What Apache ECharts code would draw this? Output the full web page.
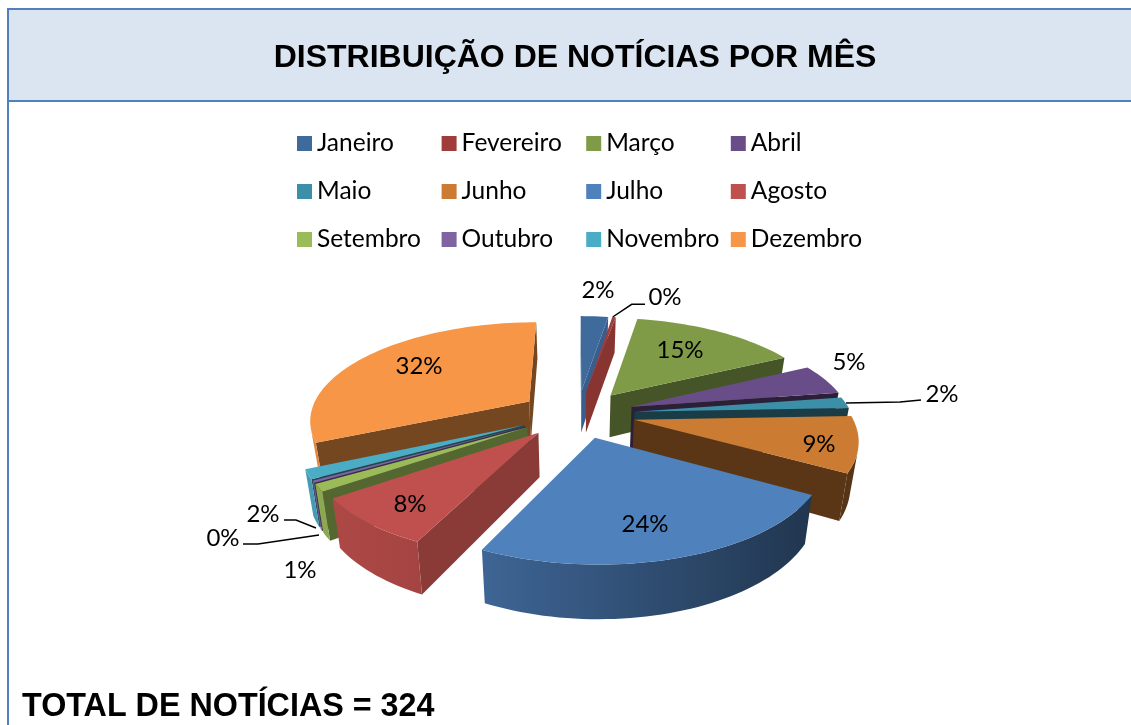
<!DOCTYPE html>
<html><head><meta charset="utf-8">
<style>html,body{margin:0;padding:0;background:#fff}#c{width:1131px;height:725px}</style>
<script src="https://cdn.jsdelivr.net/npm/echarts@6/dist/echarts.min.js"></script>
</head><body><div id="c"></div>
<script>
const chartTitle = 'DISTRIBUIÇÃO DE NOTÍCIAS POR MÊS';
const totalLabel = 'TOTAL DE NOTÍCIAS = ';
const months = ['Janeiro','Fevereiro','Março','Abril','Maio','Junho','Julho','Agosto','Setembro','Outubro','Novembro','Dezembro'];
const counts = [8,1,48,16,6,29,77,26,4,1,5,103];
const colors = ['#3E6A9C','#A03D3A','#7F9B47','#694D88','#3B8FA6','#CC7B32','#4F81BD','#C0504D','#9BBB59','#8064A2','#4BACC6','#F79646'];

// Styling tables
const paintOrder = [0,1,7,8,9,10,11,6,5,4,3,2];
const radialShade = [0.9,0.85,0.55,0.42,0.42,0.44,0.5,0.72,0.55,0.45,0.42,0.47];
const sliceScale = [1,1,1.02,1.02,1.01,1.01,1.01,1,1,1,1,1.02];
const labelAt = [[598,290],[665,297],[680,350],[849,362],[942,394],[819,444],[645,524],[410,504],[300,570],[223,538],[263,514],[419,366]];
const leaders = {1:[[612.7,317],[631.7,304.3],[645,304.3]],4:[[846,403],[900,402],[921,400]],9:[[319,535],[258,544],[243,544]],10:[[316,528],[296,520],[284,520]]};

// Pie projection
const P = {vx:577, vy:414, Rx:215, Ry:95, k:0.17, H:43, m:0.03, explodeX:0.27, explodeY:0.25};
function project(X,Y,z){
  const s = 1/(1-P.k*Y);
  return [P.vx + P.Rx*X*s*(1-P.m*z), P.vy + (P.Ry*Y + P.H*z)*s];
}
function shade(hex,f){
  const n=parseInt(hex.slice(1),16);
  const c=[(n>>16)&255,(n>>8)&255,n&255].map(v=>Math.round(v*f));
  return 'rgb('+c.join(',')+')';
}
function area(p){let a=0;for(let i=0;i<p.length;i++){const q=p[(i+1)%p.length];a+=p[i][0]*q[1]-q[0]*p[i][1];}return a;}

const total = counts.reduce((a,b)=>a+b,0);
let running = 0;
const spans = counts.map(v=>{const a=running;running+=v;return [a/total,running/total];});

function renderSlice(monthIdx){
  return function(params,api){
    const t0=api.value(0)*2*Math.PI, t1=api.value(1)*2*Math.PI, mid=(t0+t1)/2;
    const ex=P.explodeX*Math.sin(mid), ey=-P.explodeY*Math.cos(mid), R=sliceScale[monthIdx];
    const pt=(t,r,z)=>project(ex+R*r*Math.sin(t),ey-R*r*Math.cos(t),z);
    const n=Math.max(2,Math.ceil((t1-t0)/0.03));
    const ts=[];for(let i=0;i<=n;i++)ts.push(t0+(t1-t0)*i/n);
    const col=colors[monthIdx], children=[];
    const apexT=pt(0,0,0), apexB=pt(0,0,1);
    const radial=(a,b,c,d)=>{const q=[a,b,c,d];if(area(q)<0)children.push({type:'polygon',shape:{points:q},style:{fill:shade(col,radialShade[monthIdx])}});};
    radial(apexT,pt(t0,1,0),pt(t0,1,1),apexB);
    radial(pt(t1,1,0),apexT,apexB,pt(t1,1,1));
    const front=[];
    for(let i=0;i<n;i++){
      const q=[pt(ts[i],1,0),pt(ts[i+1],1,0),pt(ts[i+1],1,1),pt(ts[i],1,1)];
      if(area(q)<0)front.push(i);
    }
    if(front.length){
      const top=[],bot=[];
      front.forEach((i,j)=>{if(j===0){top.push(pt(ts[i],1,0));bot.push(pt(ts[i],1,1));}top.push(pt(ts[i+1],1,0));bot.push(pt(ts[i+1],1,1));});
      const poly=top.concat(bot.reverse());
      const xs=poly.map(p=>p[0]);
      const xl=Math.min(...xs),xr=Math.max(...xs);
      const lit=x=>Math.max(0.42,Math.min(0.9,0.68-0.24*((x-P.vx)/P.Rx)));
      children.push({type:'polygon',shape:{points:poly},style:{fill:{type:'linear',x:0,y:0,x2:1,y2:0,colorStops:[{offset:0,color:shade(col,lit(xl))},{offset:1,color:shade(col,lit(xr))}]}}});
    }
    const face=[apexT];ts.forEach(t=>face.push(pt(t,1,0)));
    children.push({type:'polygon',shape:{points:face},style:{fill:col}});
    return {type:'group',children};
  };
}

const series = months.map((name,i)=>({
  name, type:'custom', coordinateSystem:'none', silent:true, z:2+paintOrder[i],
  itemStyle:{color:colors[i]}, data:[spans[i]], renderItem:renderSlice(i), animation:false
}));
series.push({
  name:'rótulos', type:'custom', coordinateSystem:'none', silent:true, z:40, animation:false,
  data:counts.map(v=>[v/total*100]),
  renderItem(params,api){
    const i=params.dataIndex, at=labelAt[i], children=[];
    children.push({type:'text',style:{x:at[0],y:at[1],text:Math.round(api.value(0))+'%',align:'center',verticalAlign:'middle',fontFamily:'Lato',fontSize:24,fill:'#000'}});
    if(leaders[i])children.push({type:'polyline',shape:{points:leaders[i]},style:{stroke:'#000',lineWidth:1.5,fill:'none'}});
    return {type:'group',children};
  }
});

const chart = echarts.init(document.getElementById('c'),null,{renderer:'canvas'});
chart.setOption({
  animation:false, backgroundColor:'#fff',
  title:[
    {text:chartTitle,left:575,top:58,textAlign:'center',textVerticalAlign:'middle',textStyle:{fontFamily:'Liberation Sans',fontWeight:'bold',fontSize:32,color:'#000'},padding:0},
    {text:totalLabel+total,left:22,top:707,textVerticalAlign:'middle',textStyle:{fontFamily:'Liberation Sans',fontWeight:'bold',fontSize:32.3,color:'#000'},padding:0}
  ],
  legend:{data:months,left:297,top:124.5,width:600,padding:0,itemWidth:15,itemHeight:15,itemGap:10,icon:'rect',selectedMode:false,
    textStyle:{fontFamily:'Lato',fontSize:24.5,color:'#000',width:114.6,height:38,lineHeight:38,padding:0}},
  graphic:[
    {type:'rect',z:-1,shape:{x:8,y:9,width:1123,height:92},style:{fill:'#DBE5F1'},silent:true},
    {type:'polyline',z:0,shape:{points:[[8,725],[8,9],[1131,9]]},style:{stroke:'#4F81BD',lineWidth:2,fill:'none'},silent:true},
    {type:'line',z:0,shape:{x1:8,y1:101,x2:1131,y2:101},style:{stroke:'#4F81BD',lineWidth:2},silent:true}
  ],
  series
});
</script></body></html>
